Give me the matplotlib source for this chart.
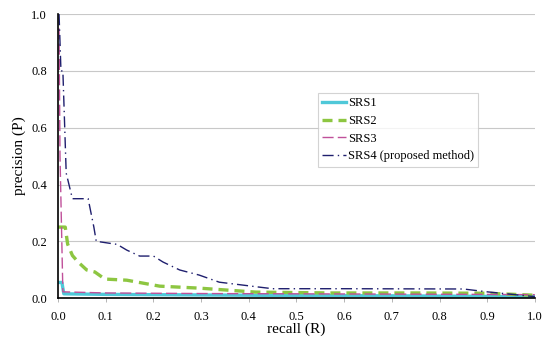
import matplotlib.pyplot as plt

plt.rcParams['font.family'] = ['Liberation Serif', 'DejaVu Serif']

# SRS1
r1 = [0.0, 0.008, 0.012, 0.1, 0.3, 0.5, 0.7, 0.9, 1.0]
p1 = [0.055, 0.055, 0.015, 0.013, 0.011, 0.009, 0.008, 0.006, 0.005]
# SRS2
r2 = [0.0, 0.015, 0.02, 0.03, 0.042, 0.06, 0.077, 0.098, 0.144, 0.213,
      0.296, 0.415, 0.574, 0.75, 0.9, 1.0]
p2 = [0.25, 0.25, 0.19, 0.15, 0.127, 0.099, 0.092, 0.067, 0.063, 0.042,
      0.035, 0.021, 0.018, 0.018, 0.017, 0.01]
# SRS3
r3 = [0.002, 0.004, 0.01, 0.1, 0.3, 0.5, 0.7, 0.9, 1.0]
p3 = [0.95, 0.5, 0.022, 0.018, 0.016, 0.015, 0.014, 0.013, 0.012]
# SRS4
r4 = [0.002, 0.006, 0.01, 0.017, 0.03, 0.063, 0.075, 0.08, 0.12, 0.123,
      0.144, 0.171, 0.2, 0.22, 0.255, 0.296, 0.338, 0.42, 0.45, 0.6,
      0.85, 0.9, 1.0]
p4 = [1.0, 0.8, 0.8, 0.44, 0.35, 0.35, 0.25, 0.2, 0.19, 0.19,
      0.169, 0.148, 0.148, 0.127, 0.099, 0.081, 0.056, 0.039, 0.033, 0.033,
      0.032, 0.022, 0.005]

fig = plt.figure(figsize=(5.43, 3.45), dpi=100)
ax = fig.add_axes([0.107, 0.136, 0.878, 0.823])

ax.plot(r1, p1, color='#4FC8D8', lw=2.4, label='SRS1')
ax.plot(r2, p2, color='#8DC641', lw=2.4, ls=(0, (3, 1.8)), label='SRS2')
ax.plot(r3, p3, color='#C0509A', lw=1.0, ls=(0, (8, 3)), label='SRS3')
ax.plot(r4, p4, color='#1F1F6E', lw=1.0, ls=(0, (8, 3, 1, 3)),
        label='SRS4 (proposed method)')

ax.set_xlim(0, 1.0)
ax.set_ylim(0, 1.0)
ax.set_xticks([i / 10 for i in range(11)])
ax.set_yticks([0, 0.2, 0.4, 0.6, 0.8, 1.0])
ax.xaxis.set_major_formatter(plt.FormatStrFormatter('%.1f'))
ax.yaxis.set_major_formatter(plt.FormatStrFormatter('%.1f'))
ax.grid(axis='y', color='#C8C8C8', lw=0.8)
ax.set_axisbelow(True)
for s in ['top', 'right']:
    ax.spines[s].set_visible(False)
ax.spines['left'].set_linewidth(1.2)
ax.spines['bottom'].set_linewidth(1.2)
ax.tick_params(axis='y', length=0, labelsize=9, pad=8)
ax.tick_params(axis='x', length=3, width=0.6, color='#AAAAAA', labelsize=9, pad=6)

ax.set_xlabel('recall (R)', fontsize=11, labelpad=0)
ax.set_ylabel('precision (P)', fontsize=11, labelpad=4)

leg = ax.legend(loc='upper left', bbox_to_anchor=(0.545, 0.722), fontsize=9,
                frameon=True, fancybox=False, handlelength=1.9,
                handletextpad=0.15, borderpad=0.35, labelspacing=0.45,
                borderaxespad=0)
leg.get_frame().set_edgecolor('#C8C8C8')
leg.get_frame().set_linewidth(0.8)

fig.savefig('out.png', dpi=100)
